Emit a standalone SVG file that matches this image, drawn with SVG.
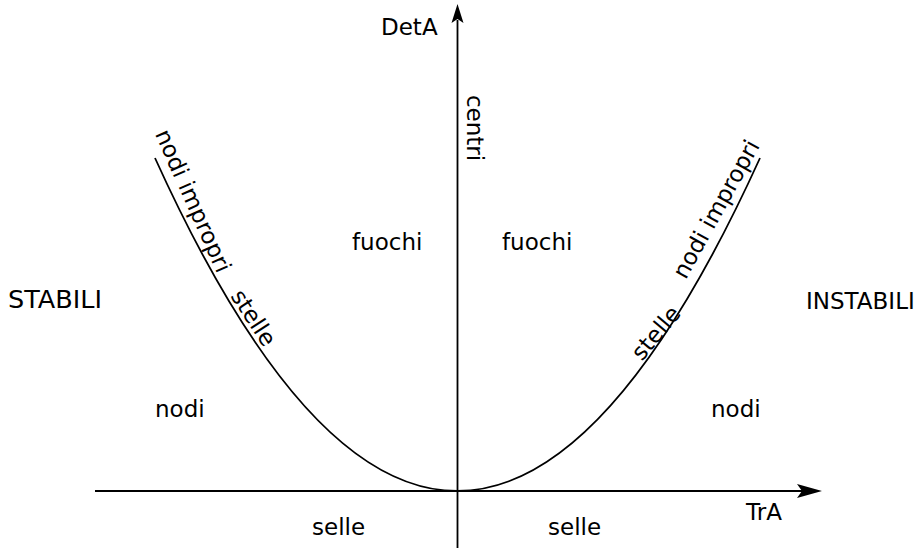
<svg xmlns="http://www.w3.org/2000/svg" width="921" height="551" viewBox="0 0 921 551">
<style>
text{font-family:"DejaVu Sans","Liberation Sans",sans-serif;font-size:23px;fill:#000}
.ax{stroke:#000;stroke-width:1.8;fill:none}
.cv{stroke:#000;stroke-width:1.8;fill:none}
.ah{fill:#000;stroke:none}
.m{text-anchor:middle}
</style>
<rect width="921" height="551" fill="#fff"/>
<g id="connectors">
<line class="ax" x1="95" y1="491" x2="805" y2="491"/>
<path class="ah" d="M822,491 L797,484 L802,491 L797,498 Z"/>
<line class="ax" x1="457.5" y1="548" x2="457.5" y2="20"/>
<path class="ah" d="M457.5,4 L451.5,23 L457.5,19 L463.5,23 Z"/>
<path class="cv" d="M155,158 Q457,824 760,158"/>
</g>
<g id="axis-labels">
<text x="381" y="35">DetA</text>
<text x="746" y="520">TrA</text>
<text transform="translate(467,128) rotate(90)" class="m">centri</text>
</g>
<g id="regions">
<text x="8" y="308" style="font-size:25.5px">STABILI</text>
<text x="806" y="309">INSTABILI</text>
<text x="352" y="250">fuochi</text>
<text x="502" y="250">fuochi</text>
<text x="155" y="417">nodi</text>
<text x="711" y="417">nodi</text>
<text x="312" y="535">selle</text>
<text x="548" y="535">selle</text>
</g>
<g id="curve-labels">
<text transform="translate(186,204) rotate(66)" class="m">nodi impropri</text>
<text transform="translate(247,322) rotate(57)" class="m">stelle</text>
<text transform="translate(662,338) rotate(-50)" class="m">stelle</text>
<text transform="translate(723,213) rotate(-61)" class="m">nodi impropri</text>
</g>
</svg>
